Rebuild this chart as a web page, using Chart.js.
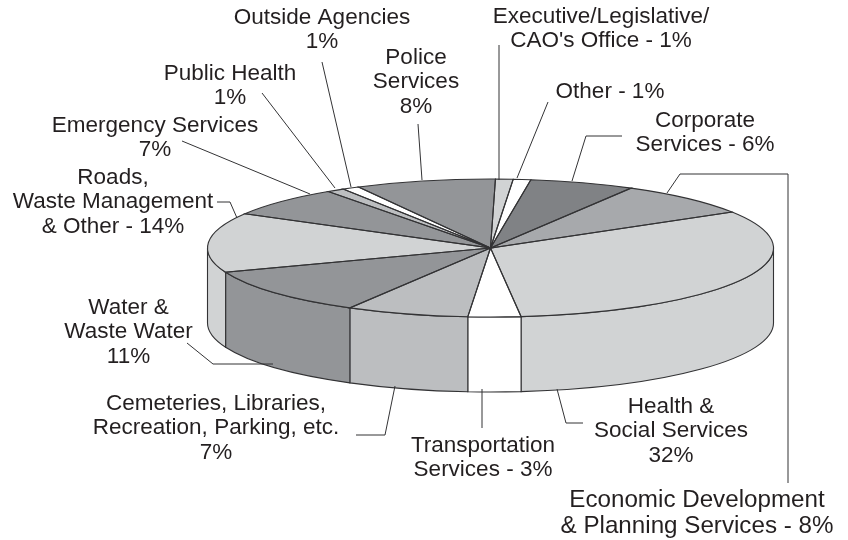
<!DOCTYPE html>
<html>
<head>
<meta charset="utf-8">
<title>Expenditures by service</title>
<script src="https://cdn.jsdelivr.net/npm/chart.js@4"></script>
<style>
  html, body { margin: 0; padding: 0; background: #fff; }
  canvas { display: block; }
</style>
</head>
<body>
<canvas id="pieChart" width="848" height="540"></canvas>
<script>
const categories = [
  "Executive/Legislative/CAO's Office", 'Other', 'Corporate Services',
  'Economic Development & Planning Services', 'Health & Social Services',
  'Transportation Services', 'Cemeteries, Libraries, Recreation, Parking, etc.',
  'Water & Waste Water', 'Roads, Waste Management & Other', 'Emergency Services',
  'Public Health', 'Outside Agencies', 'Police Services'
];
const shares = [1, 1, 6, 8, 32, 3, 7, 11, 14, 7, 1, 1, 8];
const sliceColors = [
  '#d1d3d4', '#ffffff', '#808285', '#a7a9ac', '#d1d3d4', '#ffffff', '#bcbec0',
  '#939598', '#d1d3d4', '#939598', '#bcbec0', '#ffffff', '#939598'
];

/* pie shape */
const RADIUS = 283;
const RADIUS_Y = 69;
const DEPTH = 75;
const LINE = '#333335';

/* callouts: centre x, first baseline, text lines, leader polyline */
const callouts = [
  { x: 601, y: 23, text: ['Executive/Legislative/', "CAO's Office - 1%"], line: [[499, 45], [499, 180]] },
  { x: 610, y: 98, text: ['Other - 1%'], line: [[548, 102], [517, 178]] },
  { x: 705, y: 127, text: ['Corporate', 'Services - 6%'], line: [[622, 136], [586, 136], [572, 181]] },
  { x: 697, y: 507, size: 24.2, step: 25.6, text: ['Economic Development', '& Planning Services - 8%'], line: [[667, 193], [680, 174], [788, 174], [788, 483]] },
  { x: 671, y: 413, text: ['Health &', 'Social Services', '32%'], line: [[557, 389], [566, 423], [583, 423]] },
  { x: 483, y: 452, text: ['Transportation', 'Services - 3%'], line: [[482, 389], [482, 428]] },
  { x: 216, y: 410, text: ['Cemeteries, Libraries,', 'Recreation, Parking, etc.', '7%'], line: [[356, 435], [385, 435], [395, 386]] },
  { x: 128.5, y: 314, text: ['Water &', 'Waste Water', '11%'], line: [[187, 343], [213, 364], [273, 364]] },
  { x: 113, y: 184, text: ['Roads,', 'Waste Management', '& Other - 14%'], line: [[217, 202], [230, 202], [237, 218]] },
  { x: 155, y: 132, text: ['Emergency Services', '7%'], line: [[182, 141], [310, 194]] },
  { x: 230, y: 80, text: ['Public Health', '1%'], line: [[262, 93], [335, 188]] },
  { x: 322, y: 24, text: ['Outside Agencies', '1%'], line: [[322, 62], [351, 187]] },
  { x: 416, y: 64, text: ['Police', 'Services', '8%'], line: [[418, 124], [422, 180]] }
];

/* Extruded rim under the slices, flattened top, then outlines and callouts */
const pie3d = {
  id: 'pie3d',
  beforeDatasetsDraw(chart) {
    const ctx = chart.ctx;
    const arcs = chart.getDatasetMeta(0).data;
    ctx.lineWidth = 1.1;
    ctx.strokeStyle = LINE;
    // only the front half has a visible wall: canvas angles 0..PI
    arcs.forEach(arc => {
      const a = Math.max(arc.startAngle, 0);
      const b = Math.min(arc.endAngle, Math.PI);
      if (b <= a) return;
      ctx.beginPath();
      ctx.ellipse(arc.x, arc.y, RADIUS, RADIUS_Y, 0, a, b);
      ctx.ellipse(arc.x, arc.y + DEPTH, RADIUS, RADIUS_Y, 0, b, a, true);
      ctx.closePath();
      ctx.fillStyle = arc.options.backgroundColor;
      ctx.fill();
      ctx.stroke();
    });
    const first = arcs[0];
    ctx.save();
    ctx.translate(first.x, first.y);
    ctx.scale(1, RADIUS_Y / RADIUS);
    ctx.translate(-first.x, -first.y);
  },
  afterDatasetsDraw(chart) {
    const ctx = chart.ctx;
    ctx.restore();
    ctx.lineWidth = 1.1;
    ctx.strokeStyle = LINE;
    chart.getDatasetMeta(0).data.forEach(arc => {
      ctx.beginPath();
      ctx.moveTo(arc.x, arc.y);
      ctx.ellipse(arc.x, arc.y, RADIUS, RADIUS_Y, 0, arc.startAngle, arc.endAngle);
      ctx.closePath();
      ctx.stroke();
    });

    ctx.textAlign = 'center';
    ctx.textBaseline = 'alphabetic';
    ctx.fillStyle = '#231f20';
    ctx.lineWidth = 1;
    callouts.forEach(c => {
      ctx.font = (c.size || 22.5) + 'px "Liberation Sans", Arial, sans-serif';
      c.text.forEach((t, i) => ctx.fillText(t, c.x, c.y + i * (c.step || 24.3)));
      ctx.beginPath();
      c.line.forEach((p, i) => i ? ctx.lineTo(p[0], p[1]) : ctx.moveTo(p[0], p[1]));
      ctx.stroke();
    });
  }
};

new Chart(document.getElementById('pieChart'), {
  type: 'pie',
  data: {
    labels: categories,
    datasets: [{
      data: shares,
      backgroundColor: sliceColors,
      borderWidth: 0,
      radius: RADIUS,
      rotation: 1,
      clip: false
    }]
  },
  options: {
    responsive: false,
    animation: false,
    layout: { padding: { left: 133, bottom: 44 } },
    plugins: {
      legend: { display: false },
      tooltip: { enabled: false }
    }
  },
  plugins: [pie3d]
});
</script>
</body>
</html>
